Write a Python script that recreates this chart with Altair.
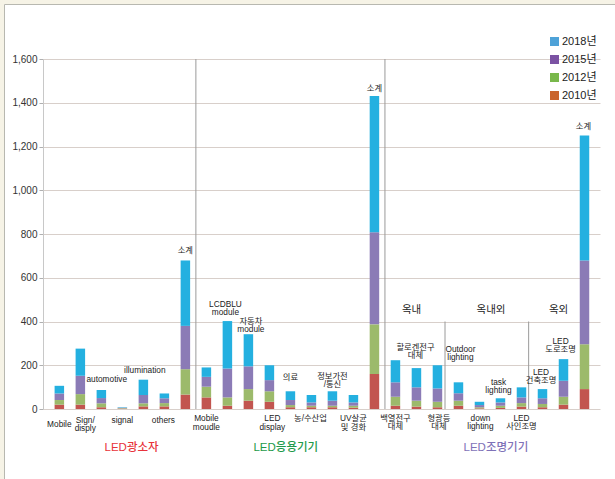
import altair as alt
import pandas as pd

# ---------------- data ----------------
categories = [
    "Mobile", "Sign/\ndisply", "automotive", "signal", "illumination", "others", "소계",
    "Mobile\nmoudle", "LCDBLU\nmodule", "자동차\nmodule", "LED\ndisplay", "의료", "농/수산업",
    "정보가전\n/통신", "UV살균\n및 경화", "소계",
    "백열전구\n대체", "할로겐전구\n대체", "형광등\n대체", "Outdoor\nlighting", "down\nlighting",
    "task\nlighting", "LED\n사인조명", "LED\n건축조명", "LED\n도로조명", "소계",
]
group_names = ["LED광소자", "LED응용기기", "LED조명기기"]
group_members = [list(range(0, 7)), list(range(7, 16)), list(range(16, 26))]
section_names = ["옥내", "옥내외", "옥외"]
section_members = [[16, 17, 18], [19, 20, 21, 22], [23, 24, 25]]
years = ["2010년", "2012년", "2015년", "2018년"]
legend_years = ["2018년", "2015년", "2012년", "2010년"]

v2010 = [20, 20, 8, 2, 12, 12, 66, 53, 15, 38, 33, 8, 8, 8, 6, 160, 15, 11, 8, 15, 3, 5, 11, 8, 20, 91]
v2012 = [21, 48, 18, 2, 14, 15, 116, 49, 38, 53, 48, 10, 7, 7, 9, 227, 41, 27, 25, 23, 5, 10, 16, 15, 36, 205]
v2015 = [30, 84, 24, 2, 38, 22, 198, 45, 132, 104, 51, 23, 15, 23, 15, 421, 66, 61, 61, 34, 10, 15, 26, 26, 73, 383]
v2018 = [35, 124, 37, 2, 70, 22, 299, 43, 217, 147, 68, 40, 34, 43, 34, 623, 101, 88, 106, 50, 15, 19, 46, 42, 99, 571]
y_ticks = [0, 200, 400, 600, 800, 1000, 1200, 1400, 1600]

# ---------------- style ----------------
FONT = "Liberation Sans, Noto Sans CJK KR"
PLOT_W, PLOT_H = 557, 350
PAD_L, PAD_T = 43, 59
X_DOM = [-0.54, 25.5]
UNIT = PLOT_W / (X_DOM[1] - X_DOM[0])
K = PLOT_H / 1600.0
LH = 8.5
bar_colors = ["#c2554f", "#9cba6b", "#8b7bb6", "#24b0e0"]
legend_colors = ["#4ea2d8", "#7b52a3", "#79b84b", "#c9642c"]
title_colors = ["#e8333b", "#1e9a4a", "#7f72b8"]

# (side, dx px, gap px) for each category label
label_style = [
    ("below", 0, 16), ("below", 5, 11.5), ("above", 5.5, 10), ("below", 0, 11.5),
    ("above", 1.5, 8.6), ("below", -1, 11.5), ("above", 0, 9),
    ("below", 0, 10), ("above", -2, 7.8), ("above", 2.5, 4), ("below", 3, 10),
    ("above", 0, 13), ("below", -1, 9.5), ("above", 0, 6), ("below", 0, 10), ("above", 0, 7),
    ("below", 0, 9.5), ("above", -1, 12), ("below", 1.5, 9.5), ("above", 2, 24),
    ("below", 1, 9.5), ("above", -2, 7), ("below", 0, 9.5), ("above", -1.5, 8),
    ("above", -3, 9), ("above", -1, 9),
]
title_dx = [9.4, -4.7, 6.0]
section_dx = [-5, 1, -5]

# ---------------- frames ----------------
series = [v2010, v2012, v2015, v2018]
bar_rows = []
for i in range(len(categories)):
    for yi, (yr, vals) in enumerate(zip(years, series)):
        bar_rows.append({"idx": i, "year": yr, "yi": yi, "value": vals[i]})
bars_df = pd.DataFrame(bar_rows)

totals = [sum(s[i] for s in series) for i in range(len(categories))]

label_rows = []
for i, lab in enumerate(categories):
    lines = lab.split("\n")
    n = len(lines)
    side, dx, gap = label_style[i]
    for j, line in enumerate(lines):
        if side == "above":
            yv = totals[i] + (gap + (n - 1 - j) * LH) / K
        else:
            yv = -(gap + j * LH) / K
        label_rows.append({"x": i + dx / UNIT, "y": yv, "text": line})
labels_df = pd.DataFrame(label_rows)

x_scale = alt.Scale(domain=X_DOM, nice=False, zero=False)
y_scale = alt.Scale(domain=[0, 1600], nice=False)
y_axis = alt.Axis(values=y_ticks, labelExpr="format(datum.value, ',')", title=None, grid=True,
                  gridColor="#d8cfca", gridWidth=1,
                  domainColor="#c8c8c8", tickColor="#b0b0b0", tickSize=4,
                  labelFont=FONT, labelFontSize=10, labelColor="#333333",
                  labelPadding=2)


def X(field):
    return alt.X(field, scale=x_scale, axis=None)


def Y(field, **kw):
    return alt.Y(field, scale=y_scale, axis=y_axis, **kw)


bars = alt.Chart(bars_df).mark_bar(size=9.5).encode(
    x=X("idx:Q"),
    y=Y("value:Q", stack="zero"),
    color=alt.Color("year:N", scale=alt.Scale(domain=years, range=bar_colors), legend=None),
    order=alt.Order("yi:Q", sort="ascending"),
)

labels = alt.Chart(labels_df).mark_text(
    font=FONT, fontSize=8.3, color="#222222", align="center", baseline="middle"
).encode(x=X("x:Q"), y=Y("y:Q"), text="text:N")

# separators
main_sep = pd.DataFrame({"x": [6.5, 15.5], "y0": [0, 0], "y1": [1600, 1600]})
sub_sep = pd.DataFrame({"x": [18.5 - 3 / UNIT, 22.5 - 3.4 / UNIT], "y0": [0, 0], "y1": [400, 400]})
seps = alt.Chart(main_sep).mark_rule(color="#9a9a9a", strokeWidth=1).encode(
    x=X("x:Q"), y=Y("y0:Q"), y2="y1:Q")
subseps = alt.Chart(sub_sep).mark_rule(color="#9a9a9a", strokeWidth=1).encode(
    x=X("x:Q"), y=Y("y0:Q"), y2="y1:Q")

# section labels
sec_df = pd.DataFrame({
    "x": [sum(m) / len(m) + d / UNIT for m, d in zip(section_members, section_dx)],
    "y": [400 + 12 / K] * 3,
    "text": section_names,
})
sections = alt.Chart(sec_df).mark_text(
    font=FONT, fontSize=10.5, color="#222222", baseline="middle"
).encode(x=X("x:Q"), y=Y("y:Q"), text="text:N")

# group titles
title_layers = []
for name, mem, d, c in zip(group_names, group_members, title_dx, title_colors):
    tdf = pd.DataFrame({"x": [sum(mem) / len(mem) + d / UNIT], "y": [-39 / K], "text": [name]})
    title_layers.append(
        alt.Chart(tdf).mark_text(font=FONT, fontSize=11.5, color=c, baseline="middle", fontWeight=500)
        .encode(x=X("x:Q"), y=Y("y:Q"), text="text:N")
    )

# legend (its own colour scale)
leg_df = pd.DataFrame({"year": legend_years, "idx": [0] * 4, "value": [0] * 4})
legend = alt.Chart(leg_df).mark_square(opacity=0, size=1).encode(
    x=X("idx:Q"),
    y=Y("value:Q"),
    color=alt.Color("year:N", scale=alt.Scale(domain=legend_years, range=legend_colors),
                    legend=alt.Legend(orient="none", legendX=506, legendY=-23, title=None,
                                      symbolType="square", symbolSize=81, symbolOpacity=1,
                                      symbolStrokeWidth=0, labelFont=FONT, labelFontSize=11,
                                      labelColor="#222222", labelOffset=2, rowPadding=6,
                                      padding=0)),
)

# outer frame (top and left edges)
one = pd.DataFrame({"a": [0]})
strip_top = alt.Chart(one).mark_rect(fill="#f6f3e6").encode(
    x=alt.value(-PAD_L), x2=alt.value(PLOT_W + 20), y=alt.value(-PAD_T), y2=alt.value(-PAD_T + 4))
strip_left = alt.Chart(one).mark_rect(fill="#f6f3e6").encode(
    x=alt.value(-PAD_L), x2=alt.value(-PAD_L + 4), y=alt.value(-PAD_T), y2=alt.value(PLOT_H + 80))
line_top = alt.Chart(one).mark_rule(color="#b8b8b0").encode(
    x=alt.value(-PAD_L + 4.5), x2=alt.value(PLOT_W + 20), y=alt.value(-PAD_T + 4.5))
line_left = alt.Chart(one).mark_rule(color="#b8b8b0").encode(
    x=alt.value(-PAD_L + 4.5), y=alt.value(-PAD_T + 4.5), y2=alt.value(PLOT_H + 80))

chart = alt.layer(
    strip_top, strip_left, line_top, line_left,
    bars, seps, subseps, labels, sections, *title_layers, legend,
).resolve_scale(color="independent").properties(
    width=PLOT_W, height=PLOT_H,
    autosize=alt.AutoSizeParams(type="none"),
    padding={"left": PAD_L, "top": PAD_T, "right": 615 - PAD_L - PLOT_W, "bottom": 479 - PAD_T - PLOT_H},
    background="white",
).configure_view(stroke=None)

chart.save("out.html", embed_options={"renderer": "svg", "actions": False})
